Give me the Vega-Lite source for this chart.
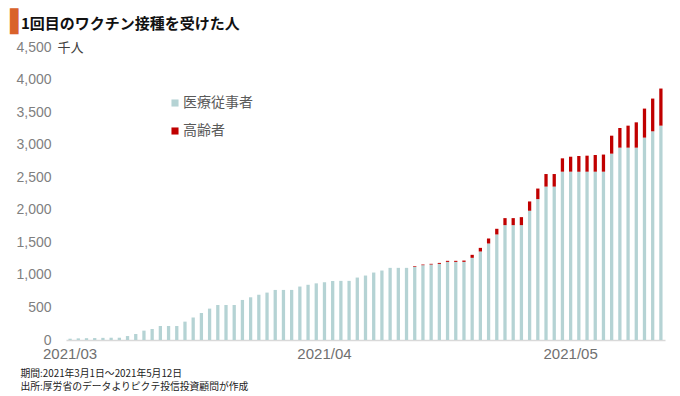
{
  "$schema": "https://vega.github.io/schema/vega-lite/v6.json",
  "autosize": {"type": "none"},
  "width": 599,
  "height": 293,
  "padding": {"left": 66, "top": 47, "right": 15, "bottom": 56},
  "background": "#ffffff",
  "title": {
    "text": "▌",
    "subtitle": "\u28001回目のワクチン接種を受けた人",
    "anchor": "start",
    "frame": "group",
    "color": "#d9622b",
    "font": "DejaVu Sans",
    "fontSize": 22,
    "fontWeight": "normal",
    "subtitleColor": "#111111",
    "subtitleFont": "Noto Sans CJK JP",
    "subtitleFontSize": 15,
    "subtitleFontWeight": "bold",
    "subtitlePadding": -17,
    "dx": -56,
    "offset": 6
  },
  "data": {
    "values": [
      {"d": "2021-03-01", "医療従事者": 20, "高齢者": 0},
      {"d": "2021-03-02", "医療従事者": 25, "高齢者": 0},
      {"d": "2021-03-03", "医療従事者": 28, "高齢者": 0},
      {"d": "2021-03-04", "医療従事者": 30, "高齢者": 0},
      {"d": "2021-03-05", "医療従事者": 33, "高齢者": 0},
      {"d": "2021-03-06", "医療従事者": 35, "高齢者": 0},
      {"d": "2021-03-07", "医療従事者": 35, "高齢者": 0},
      {"d": "2021-03-08", "医療従事者": 61, "高齢者": 0},
      {"d": "2021-03-09", "医療従事者": 92, "高齢者": 0},
      {"d": "2021-03-10", "医療従事者": 144, "高齢者": 0},
      {"d": "2021-03-11", "医療従事者": 169, "高齢者": 0},
      {"d": "2021-03-12", "医療従事者": 215, "高齢者": 0},
      {"d": "2021-03-13", "医療従事者": 215, "高齢者": 0},
      {"d": "2021-03-14", "医療従事者": 215, "高齢者": 0},
      {"d": "2021-03-15", "医療従事者": 282, "高齢者": 0},
      {"d": "2021-03-16", "医療従事者": 344, "高齢者": 0},
      {"d": "2021-03-17", "医療従事者": 415, "高齢者": 0},
      {"d": "2021-03-18", "医療従事者": 482, "高齢者": 0},
      {"d": "2021-03-19", "医療従事者": 538, "高齢者": 0},
      {"d": "2021-03-20", "医療従事者": 538, "高齢者": 0},
      {"d": "2021-03-21", "医療従事者": 538, "高齢者": 0},
      {"d": "2021-03-22", "医療従事者": 615, "高齢者": 0},
      {"d": "2021-03-23", "医療従事者": 656, "高齢者": 0},
      {"d": "2021-03-24", "医療従事者": 695, "高齢者": 0},
      {"d": "2021-03-25", "医療従事者": 728, "高齢者": 0},
      {"d": "2021-03-26", "医療従事者": 769, "高齢者": 0},
      {"d": "2021-03-27", "医療従事者": 769, "高齢者": 0},
      {"d": "2021-03-28", "医療従事者": 769, "高齢者": 0},
      {"d": "2021-03-29", "医療従事者": 821, "高齢者": 0},
      {"d": "2021-03-30", "医療従事者": 848, "高齢者": 0},
      {"d": "2021-03-31", "医療従事者": 870, "高齢者": 0},
      {"d": "2021-04-01", "医療従事者": 887, "高齢者": 0},
      {"d": "2021-04-02", "医療従事者": 906, "高齢者": 0},
      {"d": "2021-04-03", "医療従事者": 908, "高齢者": 0},
      {"d": "2021-04-04", "医療従事者": 908, "高齢者": 0},
      {"d": "2021-04-05", "医療従事者": 959, "高齢者": 0},
      {"d": "2021-04-06", "医療従事者": 990, "高齢者": 0},
      {"d": "2021-04-07", "医療従事者": 1036, "高齢者": 0},
      {"d": "2021-04-08", "医療従事者": 1067, "高齢者": 0},
      {"d": "2021-04-09", "医療従事者": 1108, "高齢者": 0},
      {"d": "2021-04-10", "医療従事者": 1108, "高齢者": 0},
      {"d": "2021-04-11", "医療従事者": 1108, "高齢者": 0},
      {"d": "2021-04-12", "医療従事者": 1123, "高齢者": 10},
      {"d": "2021-04-13", "医療従事者": 1149, "高齢者": 10},
      {"d": "2021-04-14", "医療従事者": 1159, "高齢者": 11},
      {"d": "2021-04-15", "医療従事者": 1169, "高齢者": 15},
      {"d": "2021-04-16", "医療従事者": 1200, "高齢者": 16},
      {"d": "2021-04-17", "医療従事者": 1200, "高齢者": 16},
      {"d": "2021-04-18", "医療従事者": 1200, "高齢者": 20},
      {"d": "2021-04-19", "医療従事者": 1262, "高齢者": 46},
      {"d": "2021-04-20", "医療従事者": 1359, "高齢者": 56},
      {"d": "2021-04-21", "医療従事者": 1482, "高齢者": 77},
      {"d": "2021-04-22", "医療従事者": 1621, "高齢者": 87},
      {"d": "2021-04-23", "医療従事者": 1764, "高齢者": 108},
      {"d": "2021-04-24", "医療従事者": 1764, "高齢者": 108},
      {"d": "2021-04-25", "医療従事者": 1764, "高齢者": 123},
      {"d": "2021-04-26", "医療従事者": 1985, "高齢者": 143},
      {"d": "2021-04-27", "医療従事者": 2164, "高齢者": 162},
      {"d": "2021-04-28", "医療従事者": 2356, "高齢者": 193},
      {"d": "2021-04-29", "医療従事者": 2356, "高齢者": 193},
      {"d": "2021-04-30", "医療従事者": 2585, "高齢者": 205},
      {"d": "2021-05-01", "医療従事者": 2585, "高齢者": 230},
      {"d": "2021-05-02", "医療従事者": 2585, "高齢者": 241},
      {"d": "2021-05-03", "医療従事者": 2585, "高齢者": 246},
      {"d": "2021-05-04", "医療従事者": 2585, "高齢者": 256},
      {"d": "2021-05-05", "医療従事者": 2585, "高齢者": 263},
      {"d": "2021-05-06", "医療従事者": 2862, "高齢者": 276},
      {"d": "2021-05-07", "医療従事者": 2954, "高齢者": 302},
      {"d": "2021-05-08", "医療従事者": 2954, "高齢者": 338},
      {"d": "2021-05-09", "医療従事者": 2954, "高齢者": 389},
      {"d": "2021-05-10", "医療従事者": 3108, "高齢者": 446},
      {"d": "2021-05-11", "医療従事者": 3205, "高齢者": 503},
      {"d": "2021-05-12", "医療従事者": 3292, "高齢者": 570}
    ]
  },
  "transform": [{"fold": ["医療従事者", "高齢者"], "as": ["s", "v"]}],
  "mark": {"type": "bar"},
  "encoding": {
    "x": {
      "field": "d",
      "type": "ordinal",
      "scale": {"paddingInner": 0.6, "paddingOuter": 0.3},
      "axis": {
        "labelExpr": "substring(datum.value, 8, 10) == '01' ? substring(datum.value, 0, 4) + '/' + substring(datum.value, 5, 7) : ''",
        "labelAngle": 0,
        "labelOverlap": false,
        "labelFont": "Liberation Sans",
        "labelFontSize": 15,
        "labelColor": "#707070",
        "labelPadding": 6,
        "ticks": false,
        "domainColor": "#d9d9d9",
        "domainWidth": 1.5,
        "title": ["期間:2021年3月1日～2021年5月12日", "出所:厚労省のデータよりピクテ投信投資顧問が作成"],
        "titleFont": "Noto Sans CJK JP",
        "titleFontSize": 9.8,
        "titleFontWeight": "normal",
        "titleColor": "#222222",
        "titleAlign": "left",
        "titleAnchor": "start",
        "titleBaseline": "top",
        "titleX": -46,
        "titleY": 28,
        "titleLineHeight": 13
      }
    },
    "y": {
      "field": "v",
      "type": "quantitative",
      "stack": "zero",
      "scale": {"domain": [0, 4500], "nice": false},
      "axis": {
        "values": [0, 500, 1000, 1500, 2000, 2500, 3000, 3500, 4000, 4500],
        "format": ",.0f",
        "grid": false,
        "domain": false,
        "ticks": false,
        "labelFont": "Liberation Sans",
        "labelFontSize": 14,
        "labelColor": "#7f7f7f",
        "labelPadding": 15,
        "title": "千人",
        "titleAngle": 0,
        "titleFont": "Noto Sans CJK JP",
        "titleFontSize": 13,
        "titleFontWeight": "normal",
        "titleColor": "#404040",
        "titleAlign": "left",
        "titleBaseline": "middle",
        "titleX": -9,
        "titleY": 0
      }
    },
    "order": {"field": "s", "sort": "ascending"},
    "color": {
      "field": "s",
      "type": "nominal",
      "scale": {"domain": ["医療従事者", "高齢者"], "range": ["#b5d3d4", "#c00000"]},
      "legend": {
        "title": null,
        "orient": "none",
        "legendX": 102,
        "legendY": 49,
        "symbolType": "square",
        "symbolSize": 50,
        "symbolStrokeWidth": 0,
        "labelFont": "Noto Sans CJK JP",
        "labelFontSize": 14,
        "labelColor": "#595959",
        "labelOffset": 1,
        "rowPadding": 14
      }
    }
  },
  "config": {"view": {"stroke": null}}
}
